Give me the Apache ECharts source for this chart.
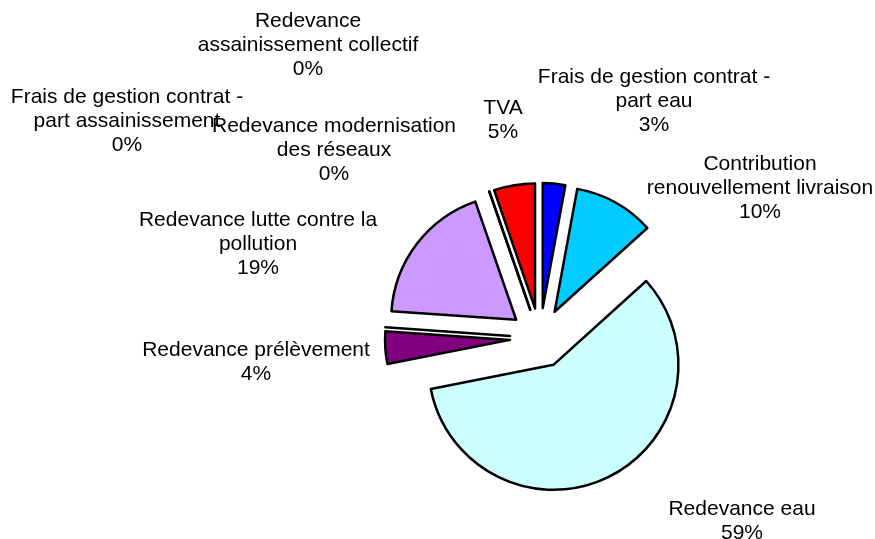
<!DOCTYPE html>
<html>
<head>
<meta charset="utf-8">
<script src="https://cdn.jsdelivr.net/npm/echarts@6/dist/echarts.min.js"></script>
<style>
  html, body { margin: 0; padding: 0; background: #fff; }
  #chart { width: 875px; height: 539px; }
</style>
</head>
<body>
<div id="chart"></div>
<script>
// Slices, clockwise from 12 o'clock (shares in %).
var categories = [
  'Frais de gestion contrat -\npart eau',
  'Contribution\nrenouvellement livraison',
  'Redevance eau',
  'Redevance prélèvement',
  'Redevance modernisation\ndes réseaux',
  'Redevance lutte contre la\npollution',
  'Frais de gestion contrat -\npart assainissement',
  'Redevance\nassainissement collectif',
  'TVA'
];
var shares = [2.9, 10.4, 58.6, 4.2, 0, 18.6, 0, 0, 5.3];
var colors = ['#0000ff', '#00ccff', '#ccffff', '#800080', '#9999ff',
  '#cc99ff', '#993366', '#ffffcc', '#ff0000'];

// Where each data label sits (label block centre), as in the original sheet.
var labelX = [654, 760, 742, 256, 334, 258, 127, 308, 503];
var labelY = [101, 188, 521, 362, 150, 244, 121, 45, 120];

var chart = echarts.init(document.getElementById('chart'), null, {renderer: 'canvas'});

var pieBase = {
  type: 'pie',
  center: [540, 338],
  radius: [0, 125],
  startAngle: 90,
  clockwise: true,
  avoidLabelOverlap: false,
  silent: true,
  emphasis: {disabled: true}
};

var option = {
  animation: false,
  backgroundColor: '#ffffff',
  series: [
    // exploded slices
    Object.assign({}, pieBase, {
      selectedMode: 'multiple',
      selectedOffset: 30,
      itemStyle: {
        borderColor: '#000000',
        borderWidth: 2.5
      },
      label: {show: false},
      labelLine: {show: false},
      data: categories.map(function (name, i) {
        return {
          name: name,
          value: shares[i],
          selected: true,
          itemStyle: {color: colors[i]}
        };
      })
    }),
    // invisible copy that only carries the data labels
    Object.assign({}, pieBase, {
      z: 3,
      itemStyle: {color: 'rgba(0,0,0,0)', borderWidth: 0},
      label: {
        show: true,
        position: 'outside',
        fontFamily: 'Liberation Sans, Arial, sans-serif',
        fontSize: 21,
        lineHeight: 24,
        color: '#000000',
        align: 'center',
        formatter: function (p) {
          return p.name + '\n' + Math.round(p.percent) + '%';
        }
      },
      labelLine: {show: false},
      labelLayout: function (params) {
        return {
          x: labelX[params.dataIndex],
          y: labelY[params.dataIndex],
          align: 'center',
          verticalAlign: 'middle'
        };
      },
      data: categories.map(function (name, i) {
        return {name: name, value: shares[i]};
      })
    })
  ]
};

chart.setOption(option);
</script>
</body>
</html>
